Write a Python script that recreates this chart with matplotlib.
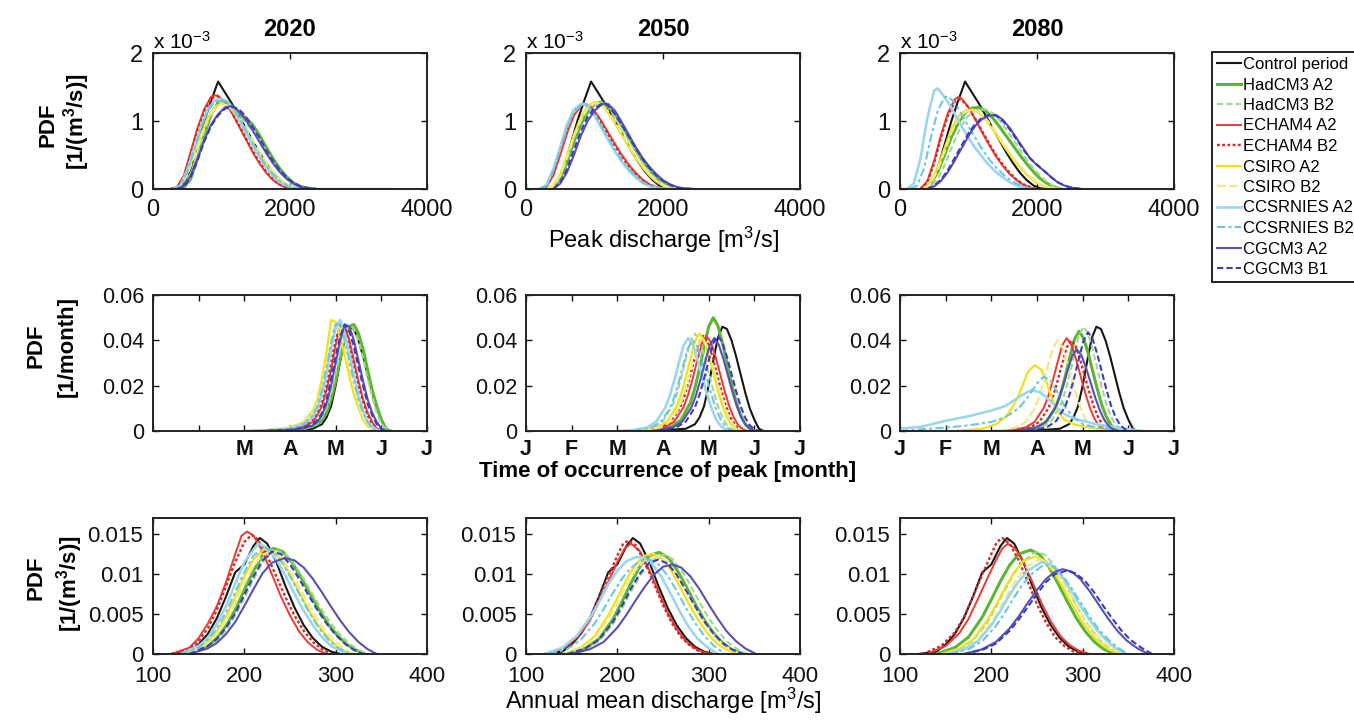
import matplotlib
matplotlib.use("Agg")
import matplotlib.pyplot as plt
from matplotlib.lines import Line2D

plt.rcParams['font.family'] = ['Liberation Sans', 'DejaVu Sans']
plt.rcParams['mathtext.default'] = 'regular'

W, H = 1354, 720

YEARS = ["2020", "2050", "2080"]
SERIES = ["Control period", "HadCM3 A2", "HadCM3 B2", "ECHAM4 A2", "ECHAM4 B2",
          "CSIRO A2", "CSIRO B2", "CCSRNIES A2", "CCSRNIES B2", "CGCM3 A2", "CGCM3 B1"]

# ---------------- Row 1: peak discharge PDF (values in units of 1e-3) ----------------
PEAK_SCALE = 1e-3
PEAK_CTRL = ([0, 350, 450, 550, 650, 750, 850, 950, 1050, 1150, 1250, 1350, 1450, 1550, 1650, 1750, 1850, 1950, 2050, 2150],
             [0, 0, 0.08, 0.3, 0.65, 1.0, 1.3, 1.58, 1.42, 1.26, 1.08, 0.9, 0.72, 0.54, 0.38, 0.24, 0.13, 0.05, 0.01, 0])

P20_G = [300, 450, 550, 650, 750, 850, 950, 1050, 1150, 1250, 1350, 1450, 1550, 1650, 1750, 1850, 1950, 2050, 2150, 2250, 2350]
P20_R = [250, 350, 450, 550, 650, 750, 850, 900, 950, 1050, 1150, 1250, 1350, 1450, 1550, 1650, 1750, 1850, 1950, 2050]
P20_Y = [300, 400, 500, 600, 700, 800, 900, 1000, 1100, 1200, 1300, 1400, 1500, 1600, 1700, 1800, 1900, 2000, 2100, 2200]
P20_B = [350, 450, 550, 650, 750, 850, 950, 1050, 1150, 1250, 1350, 1450, 1550, 1650, 1750, 1850, 1950, 2050, 2150, 2250, 2400, 3500]
PEAK_2020 = {
    "HadCM3 A2": (P20_G, [0, 0.02, 0.15, 0.45, 0.8, 1.1, 1.27, 1.3, 1.22, 1.12, 1.05, 0.95, 0.8, 0.62, 0.45, 0.3, 0.18, 0.09, 0.04, 0.01, 0]),
    "HadCM3 B2": (P20_G, [0, 0.03, 0.18, 0.5, 0.85, 1.12, 1.27, 1.28, 1.2, 1.08, 0.98, 0.86, 0.72, 0.56, 0.4, 0.26, 0.15, 0.07, 0.03, 0.01, 0]),
    "ECHAM4 A2": (P20_R, [0, 0.03, 0.2, 0.55, 0.9, 1.18, 1.36, 1.38, 1.37, 1.28, 1.12, 0.93, 0.74, 0.55, 0.38, 0.24, 0.13, 0.06, 0.02, 0]),
    "ECHAM4 B2": (P20_R, [0, 0.02, 0.16, 0.5, 0.86, 1.15, 1.33, 1.36, 1.36, 1.28, 1.13, 0.95, 0.76, 0.57, 0.4, 0.26, 0.15, 0.07, 0.02, 0]),
    "CSIRO A2": (P20_Y, [0, 0.04, 0.22, 0.5, 0.8, 1.05, 1.2, 1.26, 1.22, 1.1, 0.95, 0.78, 0.6, 0.44, 0.3, 0.18, 0.1, 0.04, 0.01, 0]),
    "CSIRO B2": (P20_Y, [0, 0.03, 0.2, 0.47, 0.77, 1.02, 1.18, 1.25, 1.23, 1.13, 0.98, 0.82, 0.65, 0.48, 0.33, 0.2, 0.11, 0.05, 0.02, 0]),
    "CCSRNIES A2": (P20_Y, [0, 0.05, 0.28, 0.6, 0.92, 1.17, 1.3, 1.33, 1.27, 1.12, 0.94, 0.75, 0.56, 0.39, 0.25, 0.14, 0.07, 0.03, 0.01, 0]),
    "CCSRNIES B2": (P20_Y, [0, 0.04, 0.25, 0.57, 0.9, 1.15, 1.28, 1.31, 1.27, 1.14, 0.97, 0.78, 0.6, 0.42, 0.28, 0.16, 0.08, 0.03, 0.01, 0]),
    "CGCM3 A2": (P20_B, [0, 0.04, 0.2, 0.45, 0.72, 0.95, 1.1, 1.2, 1.22, 1.15, 1.02, 0.87, 0.7, 0.53, 0.38, 0.25, 0.15, 0.08, 0.03, 0.01, 0, 0]),
    "CGCM3 B1": (P20_B, [0, 0.03, 0.17, 0.42, 0.7, 0.93, 1.08, 1.18, 1.21, 1.18, 1.07, 0.92, 0.76, 0.58, 0.42, 0.28, 0.17, 0.09, 0.04, 0.02, 0, 0]),
}

P50_G = [300, 400, 500, 600, 700, 800, 900, 1000, 1100, 1200, 1300, 1400, 1500, 1600, 1700, 1800, 1900, 2000, 2100, 2200, 2300]
P50_R = [200, 300, 400, 500, 600, 700, 800, 850, 900, 1000, 1100, 1200, 1300, 1400, 1500, 1600, 1700, 1800, 1900, 2000, 2100]
P50_B = [400, 500, 600, 700, 800, 900, 1000, 1100, 1150, 1200, 1300, 1400, 1500, 1600, 1700, 1800, 1900, 2000, 2100, 2200, 2300, 2450]
PEAK_2050 = {
    "HadCM3 A2": (P50_G, [0, 0.03, 0.15, 0.4, 0.7, 0.95, 1.13, 1.25, 1.28, 1.22, 1.1, 0.93, 0.76, 0.58, 0.42, 0.28, 0.17, 0.09, 0.04, 0.01, 0]),
    "HadCM3 B2": (P50_G, [0, 0.04, 0.18, 0.45, 0.75, 1.0, 1.17, 1.26, 1.27, 1.2, 1.06, 0.89, 0.72, 0.55, 0.39, 0.26, 0.15, 0.08, 0.03, 0.01, 0]),
    "ECHAM4 A2": (P50_R, [0, 0.03, 0.2, 0.5, 0.82, 1.08, 1.22, 1.25, 1.24, 1.15, 1.0, 0.83, 0.66, 0.5, 0.36, 0.24, 0.14, 0.07, 0.03, 0.01, 0]),
    "ECHAM4 B2": (P50_R, [0, 0.05, 0.25, 0.58, 0.9, 1.14, 1.25, 1.26, 1.23, 1.12, 0.97, 0.8, 0.63, 0.47, 0.33, 0.22, 0.13, 0.06, 0.03, 0.01, 0]),
    "CSIRO A2": (P50_G, [0, 0.05, 0.22, 0.5, 0.8, 1.05, 1.22, 1.28, 1.24, 1.12, 0.96, 0.79, 0.62, 0.46, 0.32, 0.2, 0.11, 0.05, 0.02, 0.01, 0]),
    "CSIRO B2": (P50_G, [0, 0.04, 0.2, 0.47, 0.77, 1.02, 1.19, 1.26, 1.24, 1.14, 0.99, 0.82, 0.65, 0.48, 0.34, 0.22, 0.12, 0.06, 0.02, 0.01, 0]),
    "CCSRNIES A2": (P50_R, [0, 0.06, 0.3, 0.62, 0.95, 1.17, 1.25, 1.25, 1.22, 1.08, 0.9, 0.72, 0.55, 0.4, 0.27, 0.17, 0.09, 0.04, 0.02, 0.01, 0]),
    "CCSRNIES B2": (P50_R, [0, 0.05, 0.27, 0.58, 0.9, 1.13, 1.23, 1.24, 1.22, 1.1, 0.93, 0.75, 0.58, 0.43, 0.3, 0.19, 0.1, 0.05, 0.02, 0.01, 0]),
    "CGCM3 A2": (P50_B, [0, 0.08, 0.25, 0.5, 0.78, 1.0, 1.15, 1.24, 1.26, 1.25, 1.15, 0.98, 0.8, 0.62, 0.46, 0.33, 0.22, 0.13, 0.07, 0.03, 0.01, 0]),
    "CGCM3 B1": (P50_B, [0, 0.1, 0.3, 0.58, 0.85, 1.06, 1.19, 1.25, 1.25, 1.22, 1.1, 0.94, 0.77, 0.6, 0.44, 0.31, 0.2, 0.12, 0.06, 0.02, 0.01, 0]),
}

P80_C1 = [100, 200, 300, 400, 500, 550, 600, 700, 800, 900, 1000, 1100, 1200, 1300, 1400, 1500, 1600, 1700, 1800, 1900]
P80_C2 = [150, 250, 350, 450, 550, 650, 700, 800, 900, 1000, 1100, 1200, 1300, 1400, 1500, 1600, 1700, 1800, 1900, 2000]
P80_R = [300, 400, 500, 600, 700, 800, 850, 900, 1000, 1100, 1200, 1300, 1400, 1500, 1600, 1700, 1800, 1900, 2000]
P80_G = [350, 450, 550, 650, 750, 850, 950, 1050, 1150, 1250, 1350, 1450, 1550, 1650, 1750, 1850, 1950, 2050, 2150, 2250, 2350]
P80_B = [400, 500, 600, 700, 800, 900, 1000, 1100, 1200, 1300, 1400, 1500, 1600, 1700, 1800, 1900, 2000, 2100, 2200, 2300, 2400, 2500, 2650]
PEAK_2080 = {
    "HadCM3 A2": (P80_G, [0, 0.08, 0.25, 0.5, 0.76, 0.97, 1.12, 1.19, 1.2, 1.15, 1.05, 0.92, 0.78, 0.64, 0.5, 0.37, 0.25, 0.15, 0.08, 0.03, 0]),
    "HadCM3 B2": (P80_G, [0, 0.04, 0.15, 0.35, 0.6, 0.84, 1.02, 1.13, 1.17, 1.17, 1.12, 1.02, 0.88, 0.73, 0.58, 0.43, 0.3, 0.19, 0.1, 0.04, 0]),
    "ECHAM4 A2": (P80_R, [0, 0.12, 0.42, 0.8, 1.12, 1.32, 1.35, 1.33, 1.2, 1.02, 0.83, 0.65, 0.48, 0.34, 0.22, 0.13, 0.06, 0.02, 0]),
    "ECHAM4 B2": (P80_R, [0, 0.1, 0.38, 0.76, 1.08, 1.28, 1.32, 1.31, 1.2, 1.03, 0.85, 0.67, 0.5, 0.36, 0.24, 0.14, 0.07, 0.03, 0]),
    "CSIRO A2": (P80_G, [0, 0.1, 0.32, 0.6, 0.88, 1.07, 1.15, 1.17, 1.12, 1.02, 0.88, 0.73, 0.58, 0.44, 0.32, 0.21, 0.12, 0.06, 0.02, 0.01, 0]),
    "CSIRO B2": (P80_G, [0, 0.08, 0.28, 0.55, 0.83, 1.03, 1.13, 1.16, 1.13, 1.04, 0.91, 0.76, 0.61, 0.47, 0.34, 0.23, 0.14, 0.07, 0.03, 0.01, 0]),
    "CCSRNIES A2": (P80_C1, [0, 0.08, 0.45, 1.05, 1.45, 1.48, 1.42, 1.28, 1.1, 0.92, 0.75, 0.6, 0.47, 0.35, 0.25, 0.17, 0.1, 0.05, 0.02, 0]),
    "CCSRNIES B2": (P80_C2, [0, 0.05, 0.3, 0.75, 1.15, 1.35, 1.36, 1.27, 1.1, 0.92, 0.75, 0.58, 0.44, 0.32, 0.22, 0.14, 0.08, 0.04, 0.01, 0]),
    "CGCM3 A2": (P80_B, [0, 0.04, 0.12, 0.25, 0.42, 0.6, 0.78, 0.93, 1.03, 1.08, 1.09, 1.02, 0.9, 0.75, 0.6, 0.45, 0.35, 0.27, 0.18, 0.1, 0.05, 0.02, 0]),
    "CGCM3 B1": (P80_B, [0, 0.05, 0.14, 0.28, 0.46, 0.64, 0.82, 0.96, 1.05, 1.09, 1.08, 1.0, 0.88, 0.73, 0.58, 0.45, 0.36, 0.27, 0.18, 0.1, 0.05, 0.02, 0]),
}

# ---------------- Row 2: time of occurrence of peak (x in months after 1 Jan) ----------------
TIME_CTRL = ([2.0, 3.0, 3.5, 3.7, 3.8, 3.9, 4.0, 4.1, 4.2, 4.3, 4.4, 4.5, 4.6, 4.7, 4.8, 4.9, 5.0, 5.1, 5.2],
             [0, 0.0003, 0.001, 0.003, 0.006, 0.011, 0.02, 0.031, 0.041, 0.046, 0.045, 0.04, 0.033, 0.025, 0.017, 0.01, 0.005, 0.001, 0])

T20_X = [2.5, 3.0, 3.3, 3.5, 3.6, 3.7, 3.8, 3.9, 4.0, 4.1, 4.2, 4.3, 4.4, 4.5, 4.6, 4.7, 4.8, 4.9, 5.0, 5.1, 5.2]
TIME_2020 = {
    "HadCM3 A2": (T20_X, [0, 0.0003, 0.001, 0.002, 0.003, 0.005, 0.008, 0.014, 0.022, 0.032, 0.041, 0.046, 0.047, 0.043, 0.036, 0.027, 0.018, 0.011, 0.005, 0.001, 0]),
    "HadCM3 B2": (T20_X, [0, 0.0004, 0.001, 0.0022, 0.0035, 0.006, 0.01, 0.016, 0.025, 0.035, 0.043, 0.047, 0.045, 0.04, 0.032, 0.023, 0.015, 0.008, 0.003, 0.001, 0]),
    "ECHAM4 A2": (T20_X, [0.0002, 0.0008, 0.002, 0.004, 0.007, 0.011, 0.018, 0.027, 0.038, 0.047, 0.046, 0.04, 0.031, 0.022, 0.014, 0.008, 0.004, 0.001, 0, 0, 0]),
    "ECHAM4 B2": (T20_X, [0.0002, 0.0008, 0.002, 0.005, 0.008, 0.013, 0.02, 0.03, 0.04, 0.047, 0.045, 0.038, 0.029, 0.02, 0.013, 0.007, 0.003, 0.001, 0, 0, 0]),
    "CSIRO A2": (T20_X, [0.0005, 0.0015, 0.004, 0.009, 0.014, 0.023, 0.035, 0.049, 0.048, 0.041, 0.033, 0.024, 0.016, 0.01, 0.005, 0.002, 0.001, 0, 0, 0, 0]),
    "CSIRO B2": (T20_X, [0.0004, 0.0012, 0.0035, 0.008, 0.012, 0.019, 0.029, 0.04, 0.048, 0.045, 0.037, 0.028, 0.019, 0.012, 0.006, 0.003, 0.001, 0, 0, 0, 0]),
    "CCSRNIES A2": (T20_X, [0.0003, 0.001, 0.003, 0.006, 0.01, 0.016, 0.025, 0.036, 0.046, 0.049, 0.043, 0.034, 0.025, 0.016, 0.009, 0.004, 0.002, 0.0005, 0, 0, 0]),
    "CCSRNIES B2": (T20_X, [0.0003, 0.001, 0.003, 0.007, 0.011, 0.018, 0.028, 0.039, 0.047, 0.047, 0.04, 0.031, 0.022, 0.014, 0.008, 0.004, 0.001, 0, 0, 0, 0]),
    "CGCM3 A2": (T20_X, [0.0001, 0.0005, 0.0012, 0.0025, 0.004, 0.007, 0.012, 0.02, 0.03, 0.04, 0.047, 0.046, 0.04, 0.031, 0.022, 0.014, 0.008, 0.004, 0.001, 0, 0]),
    "CGCM3 B1": (T20_X, [0.0001, 0.0005, 0.0015, 0.003, 0.005, 0.008, 0.014, 0.023, 0.033, 0.042, 0.047, 0.044, 0.037, 0.028, 0.02, 0.012, 0.007, 0.003, 0.001, 0, 0]),
}

TIME_2050 = {
    "HadCM3 A2": ([2.8, 3.2, 3.4, 3.6, 3.7, 3.8, 3.9, 4.0, 4.1, 4.2, 4.3, 4.4, 4.5, 4.6, 4.7, 4.8, 4.9, 5.0],
                  [0, 0.002, 0.005, 0.0125, 0.019, 0.0275, 0.037, 0.046, 0.05, 0.0465, 0.039, 0.03, 0.021, 0.013, 0.007, 0.003, 0.001, 0]),
    "HadCM3 B2": ([2.4, 2.8, 3.0, 3.2, 3.3, 3.4, 3.5, 3.6, 3.7, 3.8, 3.9, 4.0, 4.1, 4.2, 4.3, 4.4, 4.5, 4.6],
                  [0, 0.0017, 0.0043, 0.0108, 0.0163, 0.0237, 0.0318, 0.0396, 0.043, 0.04, 0.0335, 0.0258, 0.0181, 0.0112, 0.006, 0.0026, 0.0009, 0]),
    "ECHAM4 A2": ([2.65, 3.05, 3.25, 3.45, 3.55, 3.65, 3.75, 3.85, 3.95, 4.05, 4.15, 4.25, 4.35, 4.45, 4.55, 4.65, 4.75, 4.85],
                  [0, 0.0017, 0.0042, 0.0105, 0.016, 0.0231, 0.0311, 0.0386, 0.042, 0.0391, 0.0328, 0.0252, 0.0176, 0.0109, 0.0059, 0.0025, 0.0008, 0]),
    "ECHAM4 B2": ([2.58, 2.98, 3.18, 3.38, 3.48, 3.58, 3.68, 3.78, 3.88, 3.98, 4.08, 4.18, 4.28, 4.38, 4.48, 4.58, 4.68, 4.78],
                  [0, 0.0017, 0.0042, 0.0105, 0.016, 0.0231, 0.0311, 0.0386, 0.042, 0.0391, 0.0328, 0.0252, 0.0176, 0.0109, 0.0059, 0.0025, 0.0008, 0]),
    "CSIRO A2": ([2.5, 2.9, 3.1, 3.3, 3.4, 3.5, 3.6, 3.7, 3.8, 3.9, 4.0, 4.1, 4.2, 4.3, 4.4, 4.5, 4.6, 4.7],
                 [0, 0.0017, 0.0043, 0.0108, 0.0163, 0.0237, 0.0318, 0.0396, 0.043, 0.04, 0.0335, 0.0258, 0.0181, 0.0112, 0.006, 0.0026, 0.0009, 0]),
    "CSIRO B2": ([2.55, 2.95, 3.15, 3.35, 3.45, 3.55, 3.65, 3.75, 3.85, 3.95, 4.05, 4.15, 4.25, 4.35, 4.45, 4.55, 4.65, 4.75],
                 [0, 0.0016, 0.0041, 0.0103, 0.0156, 0.0226, 0.0303, 0.0377, 0.041, 0.0381, 0.032, 0.0246, 0.0172, 0.0107, 0.0057, 0.0025, 0.0008, 0]),
    "CCSRNIES A2": ([2.25, 2.65, 2.85, 3.05, 3.15, 3.25, 3.35, 3.45, 3.55, 3.65, 3.75, 3.85, 3.95, 4.05, 4.15, 4.25, 4.35, 4.45],
                    [0, 0.0016, 0.0041, 0.0103, 0.0156, 0.0226, 0.0303, 0.0377, 0.041, 0.0381, 0.032, 0.0246, 0.0172, 0.0107, 0.0057, 0.0025, 0.0008, 0]),
    "CCSRNIES B2": ([2.35, 2.75, 2.95, 3.15, 3.25, 3.35, 3.45, 3.55, 3.65, 3.75, 3.85, 3.95, 4.05, 4.15, 4.25, 4.35, 4.45, 4.55],
                    [0, 0.0016, 0.004, 0.01, 0.0152, 0.022, 0.0296, 0.0368, 0.04, 0.0372, 0.0312, 0.024, 0.0168, 0.0104, 0.0056, 0.0024, 0.0008, 0]),
    "CGCM3 A2": ([2.82, 3.22, 3.42, 3.62, 3.72, 3.82, 3.92, 4.02, 4.12, 4.22, 4.32, 4.42, 4.52, 4.62, 4.72, 4.82, 4.92, 5.02],
                 [0, 0.0016, 0.0041, 0.0103, 0.0156, 0.0226, 0.0303, 0.0377, 0.041, 0.0381, 0.032, 0.0246, 0.0172, 0.0107, 0.0057, 0.0025, 0.0008, 0]),
    "CGCM3 B1": ([2.9, 3.3, 3.5, 3.7, 3.8, 3.9, 4.0, 4.1, 4.2, 4.3, 4.4, 4.5, 4.6, 4.7, 4.8, 4.9, 5.0, 5.1],
                 [0, 0.0017, 0.0042, 0.0105, 0.016, 0.0231, 0.0311, 0.0386, 0.042, 0.0391, 0.0328, 0.0252, 0.0176, 0.0109, 0.0059, 0.0025, 0.0008, 0]),
}

TIME_2080 = {
    "HadCM3 A2": ([2.62, 3.02, 3.22, 3.42, 3.52, 3.62, 3.72, 3.82, 3.92, 4.02, 4.12, 4.22, 4.32, 4.42, 4.52, 4.62, 4.72, 4.82],
                  [0, 0.0018, 0.0044, 0.011, 0.0167, 0.0242, 0.0326, 0.0405, 0.044, 0.0409, 0.0343, 0.0264, 0.0185, 0.0114, 0.0062, 0.0026, 0.0009, 0]),
    "HadCM3 B2": ([2.72, 3.12, 3.32, 3.52, 3.62, 3.72, 3.82, 3.92, 4.02, 4.12, 4.22, 4.32, 4.42, 4.52, 4.62, 4.72, 4.82, 4.92],
                  [0, 0.0018, 0.0046, 0.0115, 0.0175, 0.0253, 0.034, 0.0423, 0.046, 0.0428, 0.0359, 0.0276, 0.0193, 0.012, 0.0064, 0.0028, 0.0009, 0]),
    "ECHAM4 A2": ([2.35, 2.75, 2.95, 3.15, 3.25, 3.35, 3.45, 3.55, 3.65, 3.75, 3.85, 3.95, 4.05, 4.15, 4.25, 4.35, 4.45, 4.55],
                  [0, 0.0016, 0.0041, 0.0103, 0.0156, 0.0226, 0.0303, 0.0377, 0.041, 0.0381, 0.032, 0.0246, 0.0172, 0.0107, 0.0057, 0.0025, 0.0008, 0]),
    "ECHAM4 B2": ([2.45, 2.85, 3.05, 3.25, 3.35, 3.45, 3.55, 3.65, 3.75, 3.85, 3.95, 4.05, 4.15, 4.25, 4.35, 4.45, 4.55, 4.65],
                  [0, 0.0016, 0.004, 0.01, 0.0152, 0.022, 0.0296, 0.0368, 0.04, 0.0372, 0.0312, 0.024, 0.0168, 0.0104, 0.0056, 0.0024, 0.0008, 0]),
    "CSIRO A2": ([1.2, 1.8, 2.1, 2.3, 2.45, 2.6, 2.7, 2.8, 2.95, 3.1, 3.2, 3.3, 3.4, 3.5, 3.6, 3.8, 4.0, 4.3, 4.6],
                 [0, 0.001, 0.003, 0.006, 0.01, 0.016, 0.021, 0.026, 0.029, 0.027, 0.022, 0.016, 0.011, 0.0075, 0.005, 0.003, 0.002, 0.001, 0]),
    "CSIRO B2": ([2.15, 2.55, 2.75, 2.95, 3.05, 3.15, 3.25, 3.35, 3.45, 3.55, 3.65, 3.75, 3.85, 3.95, 4.05, 4.15, 4.25, 4.35],
                 [0, 0.0016, 0.004, 0.01, 0.0152, 0.022, 0.0296, 0.0368, 0.04, 0.0372, 0.0312, 0.024, 0.0168, 0.0104, 0.0056, 0.0024, 0.0008, 0]),
    "CCSRNIES A2": ([0, 0.5, 1.0, 1.5, 2.0, 2.3, 2.5, 2.7, 2.88, 3.05, 3.2, 3.4, 3.6, 3.8, 4.0, 4.3, 4.6, 5.0, 5.3],
                    [0.001, 0.002, 0.0045, 0.0065, 0.009, 0.011, 0.0135, 0.0162, 0.018, 0.0172, 0.015, 0.011, 0.0075, 0.0055, 0.0045, 0.003, 0.002, 0.0008, 0]),
    "CCSRNIES B2": ([0, 0.5, 1.0, 1.5, 2.0, 2.3, 2.6, 2.8, 3.0, 3.15, 3.3, 3.45, 3.6, 3.8, 4.0, 4.3, 4.6, 5.0],
                    [0, 0.0008, 0.0015, 0.0025, 0.004, 0.006, 0.01, 0.015, 0.021, 0.024, 0.022, 0.017, 0.011, 0.006, 0.003, 0.0015, 0.0008, 0]),
    "CGCM3 A2": ([2.57, 2.97, 3.17, 3.37, 3.47, 3.57, 3.67, 3.77, 3.87, 3.97, 4.07, 4.17, 4.27, 4.37, 4.47, 4.57, 4.67, 4.77],
                 [0, 0.0014, 0.0036, 0.009, 0.0137, 0.0198, 0.0266, 0.0331, 0.036, 0.0335, 0.0281, 0.0216, 0.0151, 0.0094, 0.005, 0.0022, 0.0007, 0]),
    "CGCM3 B1": ([2.82, 3.22, 3.42, 3.62, 3.72, 3.82, 3.92, 4.02, 4.12, 4.22, 4.32, 4.42, 4.52, 4.62, 4.72, 4.82, 4.92, 5.02],
                 [0, 0.0017, 0.0044, 0.0109, 0.0165, 0.0239, 0.0322, 0.04, 0.0435, 0.0405, 0.0339, 0.0261, 0.0183, 0.0113, 0.0061, 0.0026, 0.0009, 0]),
}

# ---------------- Row 3: annual mean discharge PDF ----------------
MEAN_CTRL = ([120, 140, 150, 160, 170, 180, 190, 200, 210, 217, 225, 235, 245, 255, 265, 275, 285, 295, 305],
             [0, 0.0003, 0.0012, 0.0025, 0.0045, 0.0072, 0.0102, 0.0112, 0.0135, 0.0145, 0.0138, 0.0115, 0.0085, 0.0058, 0.0036, 0.002, 0.0009, 0.0003, 0])

MEAN_2020 = {
    "HadCM3 A2": ([140, 160, 170, 180, 190, 200, 210, 220, 232, 242, 252, 262, 272, 282, 292, 302, 312, 322, 332],
                  [0, 0.001, 0.002, 0.0035, 0.0055, 0.008, 0.0104, 0.0124, 0.0132, 0.0128, 0.0115, 0.0096, 0.0075, 0.0055, 0.0037, 0.0023, 0.0012, 0.0005, 0]),
    "HadCM3 B2": ([140, 160, 170, 180, 190, 200, 210, 220, 230, 235, 245, 255, 265, 275, 285, 295, 305, 315, 325, 335],
                  [0, 0.0008, 0.0016, 0.003, 0.0048, 0.007, 0.0093, 0.0114, 0.0128, 0.013, 0.0125, 0.0112, 0.0094, 0.0074, 0.0055, 0.0038, 0.0024, 0.0013, 0.0005, 0]),
    "ECHAM4 A2": ([120, 140, 150, 160, 170, 180, 190, 197, 203, 210, 220, 230, 240, 250, 260, 270, 280, 290],
                  [0, 0.0008, 0.002, 0.0038, 0.006, 0.009, 0.0125, 0.0148, 0.0153, 0.0148, 0.0128, 0.01, 0.0072, 0.0048, 0.0028, 0.0014, 0.0005, 0]),
    "ECHAM4 B2": ([120, 140, 150, 160, 170, 180, 190, 200, 208, 215, 225, 235, 245, 255, 265, 275, 285, 295],
                  [0, 0.0006, 0.0016, 0.0032, 0.0055, 0.0085, 0.0115, 0.014, 0.0149, 0.0143, 0.0123, 0.0097, 0.0071, 0.0048, 0.0029, 0.0015, 0.0006, 0]),
    "CSIRO A2": ([130, 150, 160, 170, 180, 190, 200, 210, 222, 232, 242, 252, 262, 272, 282, 292, 302, 315],
                 [0, 0.0007, 0.0015, 0.0028, 0.0047, 0.0071, 0.0097, 0.0118, 0.0132, 0.0129, 0.0115, 0.0095, 0.0073, 0.0052, 0.0034, 0.002, 0.0009, 0]),
    "CSIRO B2": ([130, 150, 160, 170, 180, 190, 200, 210, 220, 228, 238, 248, 258, 268, 278, 288, 298, 310, 320],
                 [0, 0.0006, 0.0013, 0.0025, 0.0042, 0.0064, 0.0088, 0.011, 0.0124, 0.0128, 0.0123, 0.0108, 0.0088, 0.0067, 0.0047, 0.003, 0.0017, 0.0006, 0]),
    "CCSRNIES A2": ([130, 150, 160, 170, 180, 190, 200, 215, 225, 235, 245, 255, 265, 275, 285, 295, 305, 315],
                    [0, 0.001, 0.002, 0.0038, 0.006, 0.0088, 0.0115, 0.0138, 0.0133, 0.0118, 0.0098, 0.0075, 0.0054, 0.0036, 0.0021, 0.001, 0.0004, 0]),
    "CCSRNIES B2": ([130, 150, 160, 170, 180, 190, 200, 210, 222, 232, 242, 252, 262, 272, 282, 292, 302, 315],
                    [0, 0.0008, 0.0018, 0.0032, 0.0052, 0.0077, 0.0102, 0.0123, 0.0133, 0.0128, 0.0113, 0.0093, 0.0071, 0.005, 0.0032, 0.0018, 0.0008, 0]),
    "CGCM3 A2": ([140, 160, 170, 180, 190, 200, 210, 220, 230, 244, 255, 265, 275, 285, 295, 305, 315, 325, 335, 345],
                 [0, 0.0007, 0.0014, 0.0025, 0.004, 0.006, 0.0081, 0.0101, 0.0114, 0.012, 0.0117, 0.0108, 0.0094, 0.0077, 0.0059, 0.0042, 0.0027, 0.0015, 0.0006, 0]),
    "CGCM3 B1": ([140, 160, 170, 180, 190, 200, 210, 220, 230, 240, 250, 260, 270, 280, 290, 300, 310, 320, 330],
                 [0, 0.001, 0.0019, 0.0033, 0.0051, 0.0074, 0.0097, 0.0117, 0.0128, 0.0125, 0.0112, 0.0094, 0.0074, 0.0055, 0.0038, 0.0024, 0.0013, 0.0005, 0]),
}

MEAN_2050 = {
    "HadCM3 A2": ([145, 165, 180, 195, 205, 215, 225, 235, 246, 256, 266, 276, 286, 296, 306, 316, 326, 338],
                  [0, 0.0007, 0.0019, 0.0043, 0.0065, 0.0089, 0.011, 0.0123, 0.0127, 0.012, 0.0104, 0.0083, 0.0061, 0.0041, 0.0025, 0.0013, 0.0005, 0]),
    "HadCM3 B2": ([145, 165, 180, 195, 205, 215, 225, 235, 245, 250, 260, 270, 280, 290, 300, 310, 320, 330, 342],
                  [0, 0.0006, 0.0016, 0.0037, 0.0056, 0.0078, 0.0098, 0.0113, 0.0122, 0.0124, 0.0119, 0.0105, 0.0086, 0.0065, 0.0045, 0.0029, 0.0016, 0.0007, 0]),
    "ECHAM4 A2": ([125, 145, 160, 170, 180, 190, 200, 208, 215, 225, 235, 245, 255, 265, 275, 285, 295, 305],
                  [0, 0.001, 0.0025, 0.0042, 0.0065, 0.009, 0.0115, 0.0132, 0.0138, 0.0128, 0.0105, 0.0078, 0.0052, 0.0031, 0.0016, 0.0007, 0.0002, 0]),
    "ECHAM4 B2": ([125, 145, 160, 170, 180, 190, 200, 206, 212, 220, 230, 240, 250, 260, 270, 280, 290, 300],
                  [0, 0.001, 0.0026, 0.0045, 0.007, 0.0097, 0.0123, 0.0137, 0.0142, 0.0136, 0.0115, 0.0088, 0.0061, 0.0038, 0.0021, 0.001, 0.0003, 0]),
    "CSIRO A2": ([140, 160, 175, 190, 200, 210, 220, 230, 240, 250, 260, 270, 280, 290, 300, 310, 320, 332],
                 [0, 0.0008, 0.0022, 0.0048, 0.007, 0.0093, 0.0112, 0.0123, 0.0125, 0.0118, 0.0102, 0.0081, 0.0059, 0.004, 0.0024, 0.0012, 0.0005, 0]),
    "CSIRO B2": ([140, 160, 175, 190, 200, 210, 220, 230, 243, 253, 263, 273, 283, 293, 303, 313, 323, 335],
                 [0, 0.0007, 0.0019, 0.0043, 0.0064, 0.0086, 0.0105, 0.0117, 0.0122, 0.0117, 0.0103, 0.0084, 0.0063, 0.0043, 0.0027, 0.0014, 0.0006, 0]),
    "CCSRNIES A2": ([120, 140, 155, 170, 180, 190, 200, 210, 220, 228, 238, 248, 258, 268, 278, 288, 298, 310],
                    [0, 0.0008, 0.0022, 0.0045, 0.0065, 0.0087, 0.0104, 0.0116, 0.0121, 0.0121, 0.0113, 0.0097, 0.0076, 0.0054, 0.0034, 0.0019, 0.0009, 0]),
    "CCSRNIES B2": ([125, 145, 160, 175, 185, 195, 205, 215, 225, 235, 245, 255, 265, 275, 285, 295, 305, 318],
                    [0, 0.0006, 0.0018, 0.0038, 0.0056, 0.0076, 0.0094, 0.0108, 0.0116, 0.0118, 0.0112, 0.0098, 0.0079, 0.0058, 0.0039, 0.0023, 0.0011, 0]),
    "CGCM3 A2": ([150, 170, 185, 200, 210, 220, 230, 240, 250, 260, 270, 280, 290, 300, 310, 320, 330, 340, 352],
                 [0, 0.0006, 0.0015, 0.0033, 0.0049, 0.0067, 0.0084, 0.0099, 0.0109, 0.0112, 0.0108, 0.0097, 0.0081, 0.0062, 0.0044, 0.0028, 0.0016, 0.0007, 0]),
    "CGCM3 B1": ([145, 165, 180, 195, 205, 215, 225, 235, 245, 255, 265, 275, 285, 295, 305, 315, 325, 338],
                 [0, 0.0007, 0.0018, 0.004, 0.006, 0.0082, 0.0101, 0.0114, 0.0118, 0.0113, 0.0099, 0.008, 0.006, 0.0041, 0.0026, 0.0014, 0.0006, 0]),
}

MEAN_2080 = {
    "HadCM3 A2": ([140, 160, 175, 190, 200, 210, 220, 230, 243, 253, 263, 273, 283, 293, 303, 313, 323, 335],
                  [0, 0.0008, 0.0021, 0.0046, 0.0068, 0.0091, 0.0111, 0.0125, 0.013, 0.0124, 0.0109, 0.0088, 0.0066, 0.0045, 0.0028, 0.0015, 0.0006, 0]),
    "HadCM3 B2": ([145, 165, 180, 195, 205, 215, 225, 235, 245, 250, 260, 270, 280, 290, 300, 310, 320, 330, 342],
                  [0, 0.0006, 0.0017, 0.0038, 0.0058, 0.008, 0.0101, 0.0116, 0.0125, 0.0128, 0.0123, 0.0109, 0.0089, 0.0067, 0.0047, 0.003, 0.0016, 0.0007, 0]),
    "ECHAM4 A2": ([130, 150, 165, 175, 185, 195, 205, 212, 218, 226, 236, 246, 256, 266, 276, 286, 296, 308],
                  [0, 0.001, 0.0026, 0.0044, 0.0068, 0.0093, 0.0117, 0.0132, 0.0138, 0.0132, 0.0113, 0.0087, 0.0061, 0.0039, 0.0022, 0.0011, 0.0004, 0]),
    "ECHAM4 B2": ([125, 145, 160, 170, 180, 190, 200, 206, 212, 220, 230, 240, 250, 260, 270, 280, 290, 300],
                  [0, 0.001, 0.0027, 0.0046, 0.0072, 0.0099, 0.0125, 0.014, 0.0145, 0.0138, 0.0117, 0.009, 0.0062, 0.0039, 0.0021, 0.001, 0.0003, 0]),
    "CSIRO A2": ([145, 165, 180, 195, 205, 215, 225, 235, 248, 258, 268, 278, 288, 298, 308, 318, 328, 340],
                 [0, 0.0007, 0.0018, 0.0041, 0.0061, 0.0083, 0.0102, 0.0116, 0.0122, 0.0117, 0.0103, 0.0084, 0.0063, 0.0043, 0.0027, 0.0014, 0.0006, 0]),
    "CSIRO B2": ([150, 170, 185, 200, 210, 220, 230, 240, 252, 262, 272, 282, 292, 302, 312, 322, 332, 345],
                 [0, 0.0006, 0.0017, 0.0039, 0.0058, 0.0079, 0.0097, 0.011, 0.0118, 0.0114, 0.0101, 0.0083, 0.0063, 0.0044, 0.0028, 0.0015, 0.0007, 0]),
    "CCSRNIES A2": ([150, 170, 185, 200, 210, 220, 230, 240, 255, 265, 275, 285, 295, 305, 315, 325, 335, 348],
                    [0, 0.0006, 0.0016, 0.0036, 0.0054, 0.0074, 0.0091, 0.0104, 0.0115, 0.0112, 0.0101, 0.0084, 0.0065, 0.0047, 0.0031, 0.0018, 0.0008, 0]),
    "CCSRNIES B2": ([155, 175, 190, 205, 215, 225, 235, 245, 258, 268, 278, 288, 298, 308, 318, 328, 338, 350],
                    [0, 0.0006, 0.0016, 0.0035, 0.0052, 0.0071, 0.0088, 0.0101, 0.0112, 0.0109, 0.0098, 0.0082, 0.0064, 0.0046, 0.003, 0.0018, 0.0008, 0]),
    "CGCM3 A2": ([170, 190, 205, 220, 230, 240, 250, 260, 270, 278, 288, 298, 308, 318, 328, 338, 348, 360, 372],
                 [0, 0.0006, 0.0015, 0.0032, 0.0047, 0.0064, 0.008, 0.0094, 0.0103, 0.0106, 0.0103, 0.0093, 0.0078, 0.0061, 0.0044, 0.0029, 0.0017, 0.0007, 0]),
    "CGCM3 B1": ([170, 190, 205, 220, 230, 240, 250, 260, 270, 282, 292, 302, 312, 322, 332, 342, 352, 364, 376],
                 [0, 0.0005, 0.0013, 0.0029, 0.0043, 0.0059, 0.0075, 0.009, 0.01, 0.0104, 0.0101, 0.0092, 0.0078, 0.0061, 0.0045, 0.003, 0.0018, 0.0008, 0]),
}

MONTH_TICKS = [0, 1, 2, 3, 4, 5, 6]
MONTH_LABELS = ["J", "F", "M", "A", "M", "J", "J"]
MONTH_LABELS_2020 = ["", "", "M", "A", "M", "J", "J"]

# ---------------- styles ----------------
STYLES = {
    "Control period": dict(color="#161616", ls="-", lw=1.5),
    "HadCM3 A2": dict(color="#5cb534", ls="-", lw=2.2),
    "HadCM3 B2": dict(color="#a3d68e", ls=(0, (3, 1.5)), lw=1.5),
    "ECHAM4 A2": dict(color="#ee3a33", ls="-", lw=1.4),
    "ECHAM4 B2": dict(color="#d42a2a", ls=(0, (1.2, 1.0)), lw=1.7),
    "CSIRO A2": dict(color="#f2e11a", ls="-", lw=1.6),
    "CSIRO B2": dict(color="#f0e98a", ls=(0, (4, 1.5)), lw=1.6),
    "CCSRNIES A2": dict(color="#9cd6ec", ls="-", lw=1.9),
    "CCSRNIES B2": dict(color="#6ec6de", ls=(0, (4, 1.5, 1.5, 1.5)), lw=1.5),
    "CGCM3 A2": dict(color="#5a50b4", ls="-", lw=1.5),
    "CGCM3 B1": dict(color="#3c3cbe", ls=(0, (3, 1.5)), lw=1.5),
}

COL_LEFT = [153, 526, 900]
COL_W = 274
ROW_TB = [(53, 189), (295, 431), (518, 654)]

fig = plt.figure(figsize=(W / 100, H / 100), dpi=100)


def add_ax(r, c):
    top, bot = ROW_TB[r]
    return fig.add_axes([COL_LEFT[c] / W, 1 - bot / H, COL_W / W, (bot - top) / H])


def style_ax(ax, tsize, pad=7, xpad=None):
    for s in ax.spines.values():
        s.set_linewidth(1.4)
        s.set_color("#222222")
    ax.tick_params(direction="in", length=4, width=1.0, top=True, right=True,
                   labelsize=tsize, pad=pad, colors="#111111")
    if xpad is not None:
        ax.tick_params(axis="x", pad=xpad)


def draw(ax, ctrl, data, scale=1.0):
    ax.plot(ctrl[0], [v * scale for v in ctrl[1]], **STYLES["Control period"])
    for name in SERIES[1:]:
        xs, ys = data[name]
        ax.plot(xs, [v * scale for v in ys], **STYLES[name])


PEAKS = [PEAK_2020, PEAK_2050, PEAK_2080]
TIMES = [TIME_2020, TIME_2050, TIME_2080]
MEANS = [MEAN_2020, MEAN_2050, MEAN_2080]

for c in range(3):
    # row 1
    ax = add_ax(0, c)
    draw(ax, PEAK_CTRL, PEAKS[c], PEAK_SCALE)
    ax.set_xlim(0, 4000)
    ax.set_ylim(0, 2e-3)
    ax.set_xticks([0, 2000, 4000])
    ax.set_xticklabels(["0", "2000", "4000"])
    ax.set_yticks([0, 1e-3, 2e-3])
    ax.set_yticklabels(["0", "1", "2"])
    style_ax(ax, 17)
    ax.text(0.0, 1.005, "x 10$^{-3}$", transform=ax.transAxes, fontsize=15,
            ha="left", va="bottom")
    ax.set_title(YEARS[c], fontsize=17, fontweight="bold", pad=12)

    # row 2
    ax = add_ax(1, c)
    draw(ax, TIME_CTRL, TIMES[c])
    ax.set_xlim(0, 6)
    ax.set_ylim(0, 0.06)
    ax.set_xticks(MONTH_TICKS)
    ax.set_xticklabels(MONTH_LABELS_2020 if c == 0 else MONTH_LABELS, fontweight="bold")
    ax.set_yticks([0, 0.02, 0.04, 0.06])
    ax.set_yticklabels(["0", "0.02", "0.04", "0.06"])
    style_ax(ax, 15.5, pad=6)

    # row 3
    ax = add_ax(2, c)
    draw(ax, MEAN_CTRL, MEANS[c])
    ax.set_xlim(100, 400)
    ax.set_ylim(0, 0.017)
    ax.set_xticks([100, 200, 300, 400])
    ax.set_yticks([0, 0.005, 0.01, 0.015])
    ax.set_yticklabels(["0", "0.005", "0.01", "0.015"])
    style_ax(ax, 16, pad=7, xpad=8.5)


def ftext(x, y, s, **kw):
    fig.text(x / W, 1 - y / H, s, **kw)


lab = dict(fontsize=16, fontweight="bold", rotation=90, ha="center", va="center")
ftext(48, 125, "PDF", **lab)
ftext(77, 122, "[1/(m$^3$/s)]", **lab)
ftext(36, 346, "PDF", **lab)
ftext(67, 346, "[1/month]", **lab)
ftext(36, 578, "PDF", **lab)
ftext(70, 584, "[1/(m$^3$/s)]", **lab)

ftext(663, 240, "Peak discharge [m$^3$/s]", fontsize=17, ha="center", va="center")
ftext(668, 472, "Time of occurrence of peak [month]", fontsize=16, fontweight="bold",
      ha="center", va="center")
ftext(663, 701, "Annual mean discharge [m$^3$/s]", fontsize=17, ha="center", va="center")

handles = [Line2D([], [], **STYLES[n]) for n in SERIES]
leg = fig.legend(handles, SERIES, loc="upper left",
                 bbox_to_anchor=(1212 / W, 1 - 52 / H), bbox_transform=fig.transFigure,
                 fontsize=12, labelspacing=0.33, handlelength=1.45, handletextpad=0.1,
                 borderpad=0.3, borderaxespad=0, fancybox=False, framealpha=1)
leg.get_frame().set_edgecolor("#222222")
leg.get_frame().set_linewidth(1.4)

fig.savefig("out.png", dpi=100)
